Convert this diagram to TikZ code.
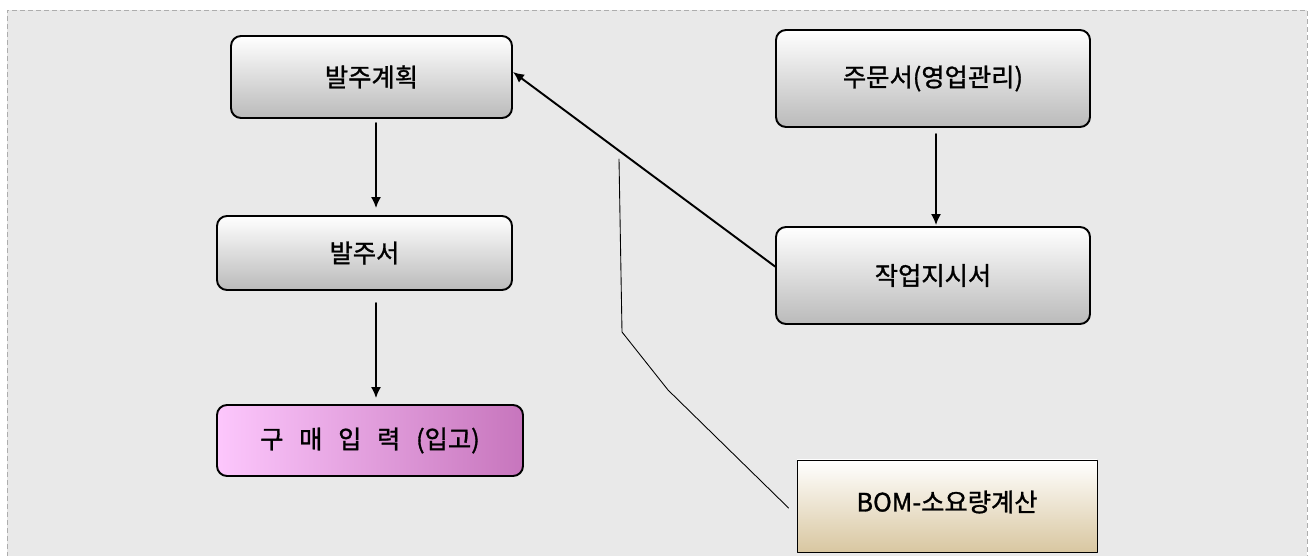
\documentclass[tikz,border=0pt]{standalone}
\usepackage{fontspec}
\setmainfont[FakeBold=1.2]{Noto Sans CJK KR}
\usepackage{tikz}
\usetikzlibrary{calc}
\usetikzlibrary{arrows.meta}
\definecolor{bggray}{rgb}{0.914,0.914,0.914}
\definecolor{framegray}{rgb}{0.68,0.68,0.68}
\definecolor{boxgray}{rgb}{0.73,0.73,0.73}
\definecolor{pinklight}{rgb}{0.99,0.78,0.99}
\definecolor{pinkdark}{rgb}{0.78,0.46,0.74}
\definecolor{bomtan}{rgb}{0.85,0.78,0.63}
\newcommand{\gap}{\hspace{0.62em}}
\tikzset{
  every node/.style={font=\Large},
  graybox/.style={draw=black,line width=1.1pt,rounded corners=0.2cm,top color=white,middle color=gray!14,bottom color=boxgray},
  buybox/.style={draw=black,line width=1.1pt,rounded corners=0.2cm,left color=pinklight,right color=pinkdark},
  bombox/.style={draw=black,line width=0.5pt,top color=white,bottom color=bomtan},
  flow/.style={->,line width=0.9pt,color=black}
}

\begin{document}
\begin{tikzpicture}[line cap=round,line join=round,>={Latex[length=0.22cm,width=0.2cm]},x=1.0cm,y=1.0cm]
            \clip(0.,0.) rectangle (26.18,11.12);
            \fill [white] (0.,0.) rectangle (26.18,11.12);
            \draw [line width=0.5pt,color=framegray,fill=bggray,dash pattern=on 0.1cm off 0.06cm,line cap=butt] (0.14,-0.5) rectangle (26.14,10.92);
            \node [graybox,minimum width=5.62cm,minimum height=1.64cm] (plan) at (7.43,9.58) {발주계획};
            \node [graybox,minimum width=5.9cm,minimum height=1.48cm] (po) at (7.29,6.06) {발주서};
            \node [buybox,minimum width=6.12cm,minimum height=1.42cm] (buy) at (7.40,2.31) {구\gap 매\gap 입\gap 력\gap (입고)};
            \node [graybox,minimum width=6.28cm,minimum height=1.94cm] (order) at (18.66,9.55) {주문서(영업관리)};
            \node [graybox,minimum width=6.28cm,minimum height=1.94cm] (work) at (18.66,5.61) {작업지시서};
            \node [bombox,minimum width=6.0cm,minimum height=1.84cm] (bom) at (18.94,1.00) {\raisebox{0.2cm}{BOM-소요량계산}};
            \draw [flow,shorten <=0.08cm,shorten >=0.14cm] ([xshift=0.09cm]plan.south) -- ([xshift=0.09cm]plan.south |- po.north);
            \draw [flow,shorten <=0.24cm,shorten >=0.12cm] ([xshift=0.09cm]plan.south |- po.south) -- ([xshift=0.09cm]plan.south |- buy.north);
            \draw [flow,shorten <=0.12cm,shorten >=0.02cm] ([xshift=0.06cm]order.south) -- ([xshift=0.06cm]work.north);
            \draw [flow,line width=1.1pt] ([yshift=0.18cm]work.west) -- ([yshift=0.10cm]plan.east);
            \coordinate (c1) at (12.38,7.94);
            \coordinate (c2) at (12.44,4.48);
            \coordinate (c3) at (13.36,3.32);
            \draw [line width=0.5pt] ([xshift=-0.16cm,yshift=-0.04cm]bom.west) -- (c3) -- (c2) -- (c1);
\end{tikzpicture}
\end{document}
